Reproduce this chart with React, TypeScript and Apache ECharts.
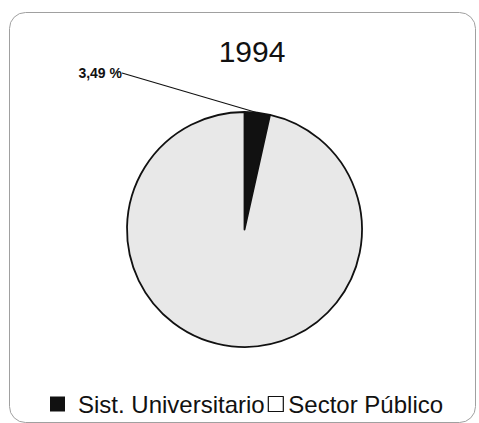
import React, { useEffect, useRef } from "react";
import * as echarts from "echarts";

const titleText = "1994";
const categories = ["Sist. Universitario", "Sector Público"];
const values = [3.49, 96.51];
const colors = ["#111111", "#e8e8e8"];

export default function App() {
  const ref = useRef<HTMLDivElement>(null);
  useEffect(() => {
    if (!ref.current) return;
    const chart = echarts.init(ref.current, undefined, { renderer: "svg" });
    const font = "Arial, 'Liberation Sans', Helvetica, sans-serif";
    chart.setOption({
      animation: false,
      backgroundColor: "#ffffff",
      title: {
        text: titleText,
        left: 247,
        top: 31,
        textAlign: "center",
        textStyle: { fontSize: 30, fontWeight: "normal", color: "#111", fontFamily: font },
      },
      graphic: [
        {
          type: "rect",
          shape: { x: 9.5, y: 12.5, width: 466, height: 410, r: 16 },
          style: { fill: "none", stroke: "#a0a0a0", lineWidth: 1 },
          silent: true,
        },
      ],
      legend: {
        left: 50,
        top: 392,
        padding: 0,
        itemWidth: 15,
        itemHeight: 15,
        itemGap: 3,
        icon: "rect",
        textStyle: { fontSize: 24, color: "#111", fontFamily: font },
        data: [
          {
            name: categories[0],
            itemStyle: { color: "#111", borderColor: "#111", borderWidth: 0 },
            textStyle: { padding: [0, 0, 0, 8] },
          },
          {
            name: categories[1],
            itemStyle: { color: "#ffffff", borderColor: "#111", borderWidth: 1.2 },
          },
        ],
      },
      series: [
        {
          type: "pie",
          center: [244.5, 229.5],
          radius: 117.5,
          startAngle: 90,
          clockwise: true,
          itemStyle: { borderColor: "#111", borderWidth: 1.8 },
          emphasis: { disabled: true },
          data: categories.map((name, i) => ({
            name,
            value: values[i],
            itemStyle: { color: colors[i] },
            label:
              i === 0
                ? {
                    show: true,
                    formatter: (p: any) => p.value.toFixed(2).replace(".", ",") + " %",
                    fontSize: 14,
                    fontWeight: "bold",
                    color: "#111",
                    fontFamily: font,
                    padding: [0, 6, 2, 0],
                  }
                : { show: false },
            labelLine:
              i === 0
                ? { show: true, length: 0, length2: 0, lineStyle: { color: "#111", width: 1.2 } }
                : { show: false },
          })),
          labelLayout: (params: any) =>
            params.dataIndex === 0
              ? { x: 128, y: 73, align: "right", verticalAlign: "middle" }
              : {},
        },
      ],
    });
    return () => chart.dispose();
  }, []);
  return (
    <div
      ref={ref}
      style={{ position: "absolute", left: 0, top: 0, width: 479, height: 423 }}
    />
  );
}
